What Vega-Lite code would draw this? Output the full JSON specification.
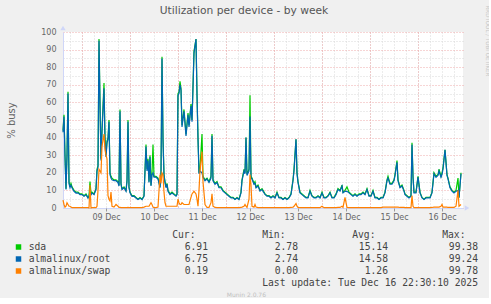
{
 "$schema": "https://vega.github.io/schema/vega-lite/v6.json",
 "background": "#f0f0f0",
 "padding": {"left": 6, "top": 5, "right": 0, "bottom": 0},
 "autosize": {"type": "pad"},
 "bounds": "flush",
 "spacing": 27,
 "config": {"view": {"stroke": null}, "font": "DejaVu Sans"},
 "vconcat": [
  {
   "width": 400,
   "height": 176,
   "view": {"fill": "#ffffff", "stroke": null},
   "title": {"text": "Utilization per device - by week", "font": "DejaVu Sans", "fontSize": 10.7, "fontWeight": "normal", "color": "#555555", "anchor": "middle", "frame": "bounds", "offset": 9, "dx": 6},
   "data": {"values": [
    {"t":"2025-12-08T14:30","sda":44,"root":43,"swap":4.5},
    {"t":"2025-12-08T15:00","sda":53,"root":52,"swap":2},
    {"t":"2025-12-08T15:30","sda":30,"root":29,"swap":0.5},
    {"t":"2025-12-08T16:00","sda":11,"root":10.5,"swap":1},
    {"t":"2025-12-08T16:30","sda":30,"root":29,"swap":3},
    {"t":"2025-12-08T17:00","sda":66,"root":65,"swap":2},
    {"t":"2025-12-08T17:30","sda":15,"root":14,"swap":1},
    {"t":"2025-12-08T18:00","sda":12,"root":11.5,"swap":1},
    {"t":"2025-12-08T18:30","sda":14,"root":13,"swap":0.5},
    {"t":"2025-12-08T19:00","sda":12,"root":11.5,"swap":0.2},
    {"t":"2025-12-08T20:00","sda":10,"root":9.5,"swap":0.2},
    {"t":"2025-12-08T21:00","sda":9,"root":8.5,"swap":0.2},
    {"t":"2025-12-08T22:00","sda":9,"root":8.6,"swap":0.2},
    {"t":"2025-12-08T23:00","sda":8,"root":7.6,"swap":0.2},
    {"t":"2025-12-09T00:00","sda":8,"root":7.6,"swap":0.2},
    {"t":"2025-12-09T01:00","sda":7,"root":6.7,"swap":0.2},
    {"t":"2025-12-09T02:00","sda":8,"root":7.5,"swap":0.2},
    {"t":"2025-12-09T03:00","sda":6,"root":5.6,"swap":0.2},
    {"t":"2025-12-09T03:30","sda":7,"root":6.5,"swap":0},
    {"t":"2025-12-09T04:00","sda":15,"root":10,"swap":13},
    {"t":"2025-12-09T04:30","sda":8,"root":7.5,"swap":0},
    {"t":"2025-12-09T05:00","sda":9,"root":8.5,"swap":0.2},
    {"t":"2025-12-09T06:00","sda":8,"root":7.6,"swap":0.2},
    {"t":"2025-12-09T07:00","sda":11,"root":10.5,"swap":0.2},
    {"t":"2025-12-09T07:30","sda":22,"root":21,"swap":1},
    {"t":"2025-12-09T08:00","sda":24,"root":23,"swap":10},
    {"t":"2025-12-09T08:30","sda":96,"root":95,"swap":22},
    {"t":"2025-12-09T09:00","sda":60,"root":58,"swap":21},
    {"t":"2025-12-09T09:30","sda":28,"root":27,"swap":20},
    {"t":"2025-12-09T10:00","sda":45,"root":43,"swap":35},
    {"t":"2025-12-09T11:00","sda":71,"root":68,"swap":42},
    {"t":"2025-12-09T11:30","sda":40,"root":38,"swap":33},
    {"t":"2025-12-09T12:00","sda":30,"root":29,"swap":30},
    {"t":"2025-12-09T12:30","sda":38,"root":37,"swap":28},
    {"t":"2025-12-09T13:00","sda":40,"root":39,"swap":7},
    {"t":"2025-12-09T13:30","sda":50,"root":49,"swap":5},
    {"t":"2025-12-09T14:00","sda":20,"root":19,"swap":4},
    {"t":"2025-12-09T14:30","sda":18,"root":17,"swap":9},
    {"t":"2025-12-09T15:00","sda":17,"root":16,"swap":1},
    {"t":"2025-12-09T16:00","sda":16,"root":15.5,"swap":0.5},
    {"t":"2025-12-09T17:00","sda":16,"root":15.5,"swap":2},
    {"t":"2025-12-09T18:00","sda":15,"root":14.5,"swap":1},
    {"t":"2025-12-09T18:30","sda":13,"root":12.5,"swap":0.3},
    {"t":"2025-12-09T19:00","sda":56,"root":55,"swap":0.3},
    {"t":"2025-12-09T19:30","sda":14,"root":13.5,"swap":0.2},
    {"t":"2025-12-09T20:00","sda":11,"root":10.5,"swap":0.2},
    {"t":"2025-12-09T21:00","sda":12,"root":11.5,"swap":0.2},
    {"t":"2025-12-09T22:00","sda":10,"root":9.5,"swap":0.2},
    {"t":"2025-12-09T22:30","sda":16,"root":15,"swap":0.2},
    {"t":"2025-12-09T23:00","sda":50,"root":49,"swap":0.3},
    {"t":"2025-12-09T23:30","sda":12,"root":11.5,"swap":0.2},
    {"t":"2025-12-10T00:00","sda":9,"root":8.6,"swap":0.2},
    {"t":"2025-12-10T01:00","sda":7,"root":6.6,"swap":0.2},
    {"t":"2025-12-10T02:00","sda":7,"root":6.7,"swap":0.2},
    {"t":"2025-12-10T03:00","sda":6,"root":5.7,"swap":0.2},
    {"t":"2025-12-10T04:00","sda":5,"root":4.8,"swap":0.2},
    {"t":"2025-12-10T05:00","sda":6,"root":5.6,"swap":0.2},
    {"t":"2025-12-10T06:00","sda":5,"root":4.7,"swap":0.2},
    {"t":"2025-12-10T07:00","sda":7,"root":6.6,"swap":0.5},
    {"t":"2025-12-10T08:00","sda":36,"root":35,"swap":1},
    {"t":"2025-12-10T08:30","sda":22,"root":21,"swap":1},
    {"t":"2025-12-10T09:00","sda":28,"root":27,"swap":1},
    {"t":"2025-12-10T09:30","sda":15,"root":14.5,"swap":1},
    {"t":"2025-12-10T10:00","sda":30,"root":29,"swap":2},
    {"t":"2025-12-10T10:30","sda":13,"root":12.5,"swap":3},
    {"t":"2025-12-10T11:00","sda":20,"root":19,"swap":2},
    {"t":"2025-12-10T11:30","sda":36,"root":20,"swap":0.5},
    {"t":"2025-12-10T12:00","sda":18,"root":17.5,"swap":0.2},
    {"t":"2025-12-10T13:00","sda":18,"root":17.5,"swap":0.2},
    {"t":"2025-12-10T14:00","sda":17,"root":16.5,"swap":0.5},
    {"t":"2025-12-10T15:00","sda":12,"root":11.5,"swap":19},
    {"t":"2025-12-10T15:30","sda":20,"root":19,"swap":14},
    {"t":"2025-12-10T16:00","sda":86,"root":85,"swap":20},
    {"t":"2025-12-10T16:30","sda":40,"root":38,"swap":19},
    {"t":"2025-12-10T17:00","sda":19,"root":18.5,"swap":9},
    {"t":"2025-12-10T17:30","sda":15,"root":14.5,"swap":3},
    {"t":"2025-12-10T18:00","sda":12,"root":11.5,"swap":1},
    {"t":"2025-12-10T18:30","sda":14,"root":13.5,"swap":1},
    {"t":"2025-12-10T19:00","sda":10,"root":9.5,"swap":1},
    {"t":"2025-12-10T20:00","sda":8,"root":7.6,"swap":1},
    {"t":"2025-12-10T21:00","sda":9,"root":8.5,"swap":1},
    {"t":"2025-12-10T22:00","sda":8,"root":7.6,"swap":1},
    {"t":"2025-12-10T23:00","sda":7,"root":6.7,"swap":1},
    {"t":"2025-12-10T23:30","sda":8,"root":7.6,"swap":1},
    {"t":"2025-12-11T00:00","sda":65,"root":64,"swap":5},
    {"t":"2025-12-11T00:30","sda":66,"root":65,"swap":3},
    {"t":"2025-12-11T01:00","sda":72,"root":70,"swap":2},
    {"t":"2025-12-11T01:30","sda":68,"root":67,"swap":2},
    {"t":"2025-12-11T02:00","sda":47,"root":46,"swap":3},
    {"t":"2025-12-11T03:00","sda":56,"root":55,"swap":2},
    {"t":"2025-12-11T04:00","sda":42,"root":41,"swap":2},
    {"t":"2025-12-11T05:00","sda":54,"root":53,"swap":2},
    {"t":"2025-12-11T05:30","sda":47,"root":46,"swap":2},
    {"t":"2025-12-11T06:30","sda":59,"root":58,"swap":6},
    {"t":"2025-12-11T07:00","sda":50,"root":49,"swap":8},
    {"t":"2025-12-11T08:00","sda":89,"root":88,"swap":9.5},
    {"t":"2025-12-11T09:00","sda":96,"root":96,"swap":8},
    {"t":"2025-12-11T09:30","sda":65,"root":64,"swap":5},
    {"t":"2025-12-11T10:00","sda":40,"root":39,"swap":1},
    {"t":"2025-12-11T10:30","sda":20,"root":19.5,"swap":10},
    {"t":"2025-12-11T11:00","sda":22,"root":21,"swap":21},
    {"t":"2025-12-11T12:00","sda":42,"root":20,"swap":32},
    {"t":"2025-12-11T12:30","sda":18,"root":17.5,"swap":15},
    {"t":"2025-12-11T13:30","sda":16,"root":15.5,"swap":2},
    {"t":"2025-12-11T14:30","sda":17,"root":16.5,"swap":0.3},
    {"t":"2025-12-11T15:30","sda":15,"root":14.5,"swap":0.3},
    {"t":"2025-12-11T16:30","sda":18,"root":17,"swap":3},
    {"t":"2025-12-11T17:00","sda":42,"root":41,"swap":8},
    {"t":"2025-12-11T17:30","sda":16,"root":15.5,"swap":1},
    {"t":"2025-12-11T18:30","sda":14,"root":13.5,"swap":0.3},
    {"t":"2025-12-11T19:30","sda":15,"root":14.5,"swap":0.2},
    {"t":"2025-12-11T20:30","sda":12,"root":11.5,"swap":0.2},
    {"t":"2025-12-11T21:30","sda":12,"root":11.5,"swap":0.2},
    {"t":"2025-12-11T22:30","sda":10,"root":9.6,"swap":0.2},
    {"t":"2025-12-11T23:30","sda":9,"root":8.6,"swap":0.2},
    {"t":"2025-12-12T00:30","sda":8,"root":7.6,"swap":0.2},
    {"t":"2025-12-12T01:30","sda":7,"root":6.7,"swap":0.2},
    {"t":"2025-12-12T02:30","sda":6,"root":5.7,"swap":0.2},
    {"t":"2025-12-12T03:30","sda":6,"root":5.8,"swap":0.2},
    {"t":"2025-12-12T04:30","sda":5,"root":4.8,"swap":0.2},
    {"t":"2025-12-12T05:30","sda":6,"root":5.7,"swap":0.2},
    {"t":"2025-12-12T06:30","sda":5,"root":4.8,"swap":0.2},
    {"t":"2025-12-12T07:30","sda":9,"root":8.6,"swap":0.3},
    {"t":"2025-12-12T08:00","sda":16,"root":15.5,"swap":0.5},
    {"t":"2025-12-12T09:00","sda":22,"root":21,"swap":1},
    {"t":"2025-12-12T09:30","sda":20,"root":19.5,"swap":2},
    {"t":"2025-12-12T10:00","sda":40,"root":40,"swap":1},
    {"t":"2025-12-12T10:30","sda":19,"root":18.5,"swap":0.3},
    {"t":"2025-12-12T11:30","sda":22,"root":21,"swap":5},
    {"t":"2025-12-12T12:00","sda":64,"root":52,"swap":19},
    {"t":"2025-12-12T12:30","sda":18,"root":17,"swap":13},
    {"t":"2025-12-12T13:00","sda":17,"root":16.5,"swap":1},
    {"t":"2025-12-12T14:00","sda":14,"root":13.5,"swap":0.5},
    {"t":"2025-12-12T14:30","sda":15,"root":14,"swap":2},
    {"t":"2025-12-12T15:00","sda":12,"root":11.5,"swap":0.5},
    {"t":"2025-12-12T16:00","sda":13,"root":12.5,"swap":0.2},
    {"t":"2025-12-12T17:00","sda":10,"root":9.6,"swap":0.2},
    {"t":"2025-12-12T18:00","sda":11,"root":10.5,"swap":0.2},
    {"t":"2025-12-12T18:30","sda":10,"root":9.6,"swap":0.2},
    {"t":"2025-12-12T19:30","sda":8,"root":7.7,"swap":0.2},
    {"t":"2025-12-12T20:30","sda":7,"root":6.7,"swap":0.2},
    {"t":"2025-12-12T21:30","sda":7,"root":6.7,"swap":0.2},
    {"t":"2025-12-12T22:30","sda":6,"root":5.7,"swap":0.2},
    {"t":"2025-12-12T23:30","sda":7,"root":6.7,"swap":0.2},
    {"t":"2025-12-13T00:30","sda":6,"root":5.7,"swap":0.2},
    {"t":"2025-12-13T01:30","sda":9,"root":8.5,"swap":0.2},
    {"t":"2025-12-13T02:30","sda":6,"root":5.7,"swap":0.2},
    {"t":"2025-12-13T03:30","sda":6,"root":5.7,"swap":0.2},
    {"t":"2025-12-13T04:30","sda":5,"root":4.8,"swap":0.2},
    {"t":"2025-12-13T05:30","sda":6,"root":5.7,"swap":0.2},
    {"t":"2025-12-13T06:30","sda":5,"root":4.8,"swap":0.2},
    {"t":"2025-12-13T07:30","sda":6,"root":5.7,"swap":0.2},
    {"t":"2025-12-13T08:30","sda":8,"root":7.6,"swap":0.3},
    {"t":"2025-12-13T09:30","sda":16,"root":15.5,"swap":0.5},
    {"t":"2025-12-13T10:00","sda":22,"root":21,"swap":1},
    {"t":"2025-12-13T11:00","sda":39,"root":39,"swap":2.5},
    {"t":"2025-12-13T11:30","sda":20,"root":19.5,"swap":1},
    {"t":"2025-12-13T12:00","sda":15,"root":14.5,"swap":0.3},
    {"t":"2025-12-13T13:00","sda":9,"root":8.6,"swap":0.2},
    {"t":"2025-12-13T14:00","sda":8,"root":7.6,"swap":0.2},
    {"t":"2025-12-13T15:00","sda":7,"root":6.7,"swap":0.2},
    {"t":"2025-12-13T16:00","sda":6,"root":5.7,"swap":0.2},
    {"t":"2025-12-13T17:00","sda":6,"root":5.7,"swap":0.2},
    {"t":"2025-12-13T18:00","sda":10,"root":9.5,"swap":0.2},
    {"t":"2025-12-13T19:00","sda":7,"root":6.7,"swap":0.2},
    {"t":"2025-12-13T20:00","sda":6,"root":5.7,"swap":0.2},
    {"t":"2025-12-13T21:00","sda":6,"root":5.7,"swap":0.2},
    {"t":"2025-12-13T22:00","sda":7,"root":6.7,"swap":0.2},
    {"t":"2025-12-13T23:00","sda":6,"root":5.7,"swap":0.2},
    {"t":"2025-12-14T00:00","sda":9,"root":8.5,"swap":1},
    {"t":"2025-12-14T01:00","sda":6,"root":5.7,"swap":0.2},
    {"t":"2025-12-14T02:00","sda":6,"root":5.7,"swap":0.2},
    {"t":"2025-12-14T03:00","sda":7,"root":6.7,"swap":0.2},
    {"t":"2025-12-14T04:00","sda":9,"root":8.6,"swap":0.2},
    {"t":"2025-12-14T05:00","sda":6,"root":5.7,"swap":0.2},
    {"t":"2025-12-14T06:00","sda":6,"root":5.7,"swap":0.2},
    {"t":"2025-12-14T07:00","sda":8,"root":7.6,"swap":0.2},
    {"t":"2025-12-14T08:00","sda":11,"root":10.5,"swap":0.3},
    {"t":"2025-12-14T09:00","sda":10,"root":9.6,"swap":0.3},
    {"t":"2025-12-14T10:00","sda":13,"root":12.5,"swap":1},
    {"t":"2025-12-14T10:30","sda":9,"root":8.6,"swap":0.3},
    {"t":"2025-12-14T11:30","sda":10,"root":9.5,"swap":6},
    {"t":"2025-12-14T12:30","sda":12,"root":9.5,"swap":0.3},
    {"t":"2025-12-14T13:30","sda":9,"root":8.6,"swap":0.2},
    {"t":"2025-12-14T14:30","sda":8,"root":7.6,"swap":0.2},
    {"t":"2025-12-14T15:30","sda":7,"root":6.7,"swap":0.2},
    {"t":"2025-12-14T16:30","sda":8,"root":7.6,"swap":0.2},
    {"t":"2025-12-14T17:30","sda":7,"root":6.7,"swap":0.2},
    {"t":"2025-12-14T18:30","sda":8,"root":7.6,"swap":0.2},
    {"t":"2025-12-14T19:30","sda":8,"root":7.6,"swap":0.2},
    {"t":"2025-12-14T20:30","sda":9,"root":8.6,"swap":0.2},
    {"t":"2025-12-14T21:30","sda":8,"root":7.6,"swap":0.2},
    {"t":"2025-12-14T22:30","sda":11,"root":10.5,"swap":0.2},
    {"t":"2025-12-14T23:30","sda":7,"root":6.7,"swap":0.2},
    {"t":"2025-12-15T00:30","sda":7,"root":6.7,"swap":0.2},
    {"t":"2025-12-15T01:30","sda":10,"root":9.5,"swap":0.2},
    {"t":"2025-12-15T02:30","sda":6,"root":5.7,"swap":0.2},
    {"t":"2025-12-15T03:30","sda":6,"root":5.7,"swap":0.2},
    {"t":"2025-12-15T04:30","sda":5,"root":4.8,"swap":0.2},
    {"t":"2025-12-15T05:30","sda":6,"root":5.7,"swap":0.2},
    {"t":"2025-12-15T06:30","sda":6,"root":5.7,"swap":0.5},
    {"t":"2025-12-15T07:30","sda":9,"root":8.6,"swap":0.5},
    {"t":"2025-12-15T08:30","sda":16,"root":15.5,"swap":0.5},
    {"t":"2025-12-15T09:00","sda":18,"root":17,"swap":0.5},
    {"t":"2025-12-15T10:00","sda":14,"root":13.5,"swap":0.5},
    {"t":"2025-12-15T11:00","sda":14,"root":13.5,"swap":0.5},
    {"t":"2025-12-15T12:00","sda":16,"root":15.5,"swap":0.5},
    {"t":"2025-12-15T12:30","sda":19,"root":18.5,"swap":0.5},
    {"t":"2025-12-15T13:30","sda":27,"root":26,"swap":0.5},
    {"t":"2025-12-15T14:00","sda":16,"root":15.5,"swap":0.5},
    {"t":"2025-12-15T15:00","sda":12,"root":11.5,"swap":0.3},
    {"t":"2025-12-15T16:00","sda":13,"root":12.5,"swap":0.3},
    {"t":"2025-12-15T17:00","sda":10,"root":9.6,"swap":0.3},
    {"t":"2025-12-15T17:30","sda":8,"root":7.6,"swap":0.2},
    {"t":"2025-12-15T18:30","sda":7,"root":6.7,"swap":0.2},
    {"t":"2025-12-15T19:30","sda":6,"root":5.7,"swap":0.2},
    {"t":"2025-12-15T20:30","sda":7,"root":6.7,"swap":0.2},
    {"t":"2025-12-15T21:00","sda":37,"root":36,"swap":7},
    {"t":"2025-12-15T21:30","sda":18,"root":17.5,"swap":1},
    {"t":"2025-12-15T22:00","sda":9,"root":8.6,"swap":0.2},
    {"t":"2025-12-15T23:00","sda":9,"root":8.6,"swap":0.2},
    {"t":"2025-12-16T00:00","sda":18,"root":17.5,"swap":0.2},
    {"t":"2025-12-16T01:00","sda":9,"root":8.6,"swap":0.2},
    {"t":"2025-12-16T02:00","sda":6,"root":5.7,"swap":0.2},
    {"t":"2025-12-16T03:00","sda":5,"root":4.8,"swap":0.2},
    {"t":"2025-12-16T04:00","sda":6,"root":5.7,"swap":0.2},
    {"t":"2025-12-16T05:00","sda":6,"root":5.7,"swap":0.2},
    {"t":"2025-12-16T06:00","sda":6,"root":5.7,"swap":0.2},
    {"t":"2025-12-16T07:00","sda":9,"root":8.6,"swap":0.3},
    {"t":"2025-12-16T08:00","sda":20,"root":19.5,"swap":0.5},
    {"t":"2025-12-16T09:00","sda":18,"root":17.5,"swap":0.5},
    {"t":"2025-12-16T10:00","sda":19,"root":18.5,"swap":0.5},
    {"t":"2025-12-16T10:30","sda":22,"root":21,"swap":0.5},
    {"t":"2025-12-16T11:30","sda":18,"root":17.5,"swap":1},
    {"t":"2025-12-16T12:00","sda":20,"root":19,"swap":2},
    {"t":"2025-12-16T12:30","sda":23,"root":22,"swap":0.5},
    {"t":"2025-12-16T13:30","sda":33,"root":33,"swap":0.5},
    {"t":"2025-12-16T14:30","sda":19,"root":18.5,"swap":0.5},
    {"t":"2025-12-16T15:00","sda":17,"root":16.5,"swap":0.3},
    {"t":"2025-12-16T16:00","sda":12,"root":11.5,"swap":0.3},
    {"t":"2025-12-16T17:00","sda":10,"root":9.6,"swap":0.3},
    {"t":"2025-12-16T18:00","sda":9,"root":8.6,"swap":0.3},
    {"t":"2025-12-16T19:00","sda":10,"root":9.5,"swap":1},
    {"t":"2025-12-16T20:00","sda":17,"root":10,"swap":10},
    {"t":"2025-12-16T20:30","sda":6,"root":5.8,"swap":1},
    {"t":"2025-12-16T21:30","sda":20,"root":19.5,"swap":2}
   ]},
   "resolve": {"axis": {"x": "independent", "y": "independent"}},
   "layer": [
    {
     "mark": {"type": "line", "color": "#00cc00", "strokeWidth": 1.2},
     "encoding": {
      "x": {
       "field": "t", "type": "temporal", "title": null,
       "scale": {"domain": [{"year": 2025, "month": 12, "date": 8, "hours": 14, "minutes": 30}, {"year": 2025, "month": 12, "date": 16, "hours": 22, "minutes": 30}]},
       "axis": {"orient": "bottom", "tickCount": 33, "grid": true, "gridColor": "#d8d8d8", "gridDash": [1, 2], "labels": false, "ticks": false, "domain": true, "domainColor": "#cfd6f8"}
      },
      "y": {
       "field": "sda", "type": "quantitative", "title": null,
       "scale": {"domain": [0, 100], "nice": false},
       "axis": {"orient": "left", "values": [5,15,25,35,45,55,65,75,85,95], "grid": true, "gridColor": "#d8d8d8", "gridDash": [1, 2], "labels": false, "ticks": false, "domain": false}
      }
     }
    },
    {
     "mark": {"type": "line", "color": "#0066b3", "strokeWidth": 1.2},
     "encoding": {
      "x": {
       "field": "t", "type": "temporal", "title": null,
       "axis": {"orient": "bottom", "tickCount": 8, "grid": true, "gridColor": "#eeaaaa", "gridDash": [1, 2], "labels": false, "ticks": false, "domain": false}
      },
      "y": {
       "field": "root", "type": "quantitative", "title": "% busy",
       "scale": {"domain": [0, 100], "nice": false},
       "axis": {
        "orient": "left",
        "values": [0,10,20,30,40,50,60,70,80,90,100],
        "grid": true, "gridColor": "#eeaaaa", "gridDash": [1, 2],
        "labelFont": "DejaVu Sans", "labelFontSize": 8, "labelColor": "#666666",
        "ticks": false, "labelPadding": 7,
        "domainColor": "#cfd6f8",
        "titleFont": "DejaVu Sans", "titleFontSize": 10, "titleFontWeight": "normal", "titleColor": "#666666", "titlePadding": 24
       }
      }
     }
    },
    {
     "mark": {"type": "line", "color": "#ff8000", "strokeWidth": 1.2},
     "encoding": {
      "x": {
       "field": "t", "type": "temporal", "title": null,
       "axis": {"orient": "bottom", "tickCount": 8, "grid": false, "format": "%d %b", "labelFont": "DejaVu Sans", "labelFontSize": 8, "labelColor": "#666666", "labelPadding": 2, "labelFlush": false, "labelOverlap": false, "tickOffset": 24, "tickSize": 3, "tickColor": "#999999", "domain": false}
      },
      "y": {"field": "swap", "type": "quantitative", "title": null, "scale": {"domain": [0, 100], "nice": false}, "axis": null}
     }
    },
    {
     "data": {"values": [{"axis": "time"}]},
     "mark": {"type": "point", "shape": "triangle-right", "filled": true, "color": "#cfd6f8", "opacity": 1, "size": 28, "xOffset": 4},
     "encoding": {
      "x": {"datum": {"year": 2025, "month": 12, "date": 16, "hours": 22, "minutes": 30}, "type": "temporal", "axis": null},
      "y": {"datum": 0, "type": "quantitative", "axis": null}
     }
    },
    {
     "data": {"values": [{"axis": "busy"}]},
     "mark": {"type": "point", "shape": "triangle-up", "filled": true, "color": "#cfd6f8", "opacity": 1, "size": 28, "yOffset": -4},
     "encoding": {
      "x": {"datum": {"year": 2025, "month": 12, "date": 8, "hours": 14, "minutes": 30}, "type": "temporal", "axis": null},
      "y": {"datum": 100, "type": "quantitative", "axis": null}
     }
    }
   ]
  },
  {
   "width": 415,
   "height": 48,
   "title": {"text": "Munin 2.0.76", "orient": "bottom", "anchor": "middle", "frame": "bounds", "font": "DejaVu Sans", "fontSize": 6, "fontWeight": "normal", "color": "#c0c0c0", "offset": 4, "dx": -6},
   "layer": [
    {
     "data": {"values": [
      {"row": "hdr", "col": "Cur", "label": "Cur:"},
      {"row": "hdr", "col": "Min", "label": "Min:"},
      {"row": "hdr", "col": "Avg", "label": "Avg:"},
      {"row": "hdr", "col": "Max", "label": "Max:"}
     ]},
     "mark": {"type": "text", "align": "right", "baseline": "middle", "dx": -12.5, "font": "DejaVu Sans Mono", "fontSize": 9.7, "color": "#444444"},
     "encoding": {
      "x": {"field": "col", "type": "nominal", "axis": null, "scale": {"type": "point", "domain": ["Lbl", "Cur", "Min", "Avg", "Max"], "padding": 0.3056, "align": 1}},
      "y": {"field": "row", "type": "nominal", "title": "RRDTOOL / TOBI OETIKER",
       "scale": {"type": "point", "domain": ["hdr", "sda", "almalinux/root", "almalinux/swap", "upd"], "padding": 0},
       "axis": {"orient": "right", "labels": false, "ticks": false, "domain": false, "grid": false,
        "titleFont": "DejaVu Sans", "titleFontSize": 5.5, "titleFontWeight": "normal", "titleColor": "#c8c8c8",
        "titleAngle": 90, "titleX": 9, "titleY": -230, "titleAlign": "left", "titleBaseline": "middle"}},
      "text": {"field": "label"}
     }
    },
    {
     "data": {"values": [
      {"series": "sda", "Cur": 6.91, "Min": 2.78, "Avg": 15.14, "Max": 99.38},
      {"series": "almalinux/root", "Cur": 6.75, "Min": 2.74, "Avg": 14.58, "Max": 99.24},
      {"series": "almalinux/swap", "Cur": 0.19, "Min": 0.00, "Avg": 1.26, "Max": 99.78}
     ]},
     "layer": [
      {
       "transform": [{"fold": ["Cur", "Min", "Avg", "Max"], "as": ["col", "value"]}],
       "mark": {"type": "text", "align": "right", "baseline": "middle", "font": "DejaVu Sans Mono", "fontSize": 9.7, "color": "#444444"},
       "encoding": {
        "x": {"field": "col", "type": "nominal", "axis": null},
        "y": {"field": "series", "type": "nominal", "title": "RRDTOOL / TOBI OETIKER"},
        "text": {"field": "value", "type": "quantitative", "format": ".2f"}
       }
      },
      {
       "mark": {"type": "text", "align": "left", "baseline": "middle", "dx": -89.3, "font": "DejaVu Sans Mono", "fontSize": 9.7, "color": "#444444"},
       "encoding": {
        "x": {"datum": "Lbl", "type": "nominal", "axis": null},
        "y": {"field": "series", "type": "nominal", "title": "RRDTOOL / TOBI OETIKER"},
        "text": {"field": "series"}
       }
      },
      {
       "mark": {"type": "square", "size": 30, "opacity": 1, "filled": true, "xOffset": -99.5},
       "encoding": {
        "x": {"datum": "Lbl", "type": "nominal", "axis": null},
        "y": {"field": "series", "type": "nominal", "title": "RRDTOOL / TOBI OETIKER"},
        "color": {"field": "series", "type": "nominal", "legend": null, "scale": {"domain": ["sda", "almalinux/root", "almalinux/swap"], "range": ["#00cc00", "#0066b3", "#ff8000"]}}
       }
      }
     ]
    },
    {
     "data": {"values": [{"row": "upd", "col": "Max", "label": "Last update: Tue Dec 16 22:30:10 2025"}]},
     "mark": {"type": "text", "align": "right", "baseline": "middle", "font": "DejaVu Sans Mono", "fontSize": 9.7, "color": "#444444"},
     "encoding": {
      "x": {"field": "col", "type": "nominal", "axis": null},
      "y": {"field": "row", "type": "nominal", "title": "RRDTOOL / TOBI OETIKER"},
      "text": {"field": "label"}
     }
    }
   ]
  }
 ]
}
